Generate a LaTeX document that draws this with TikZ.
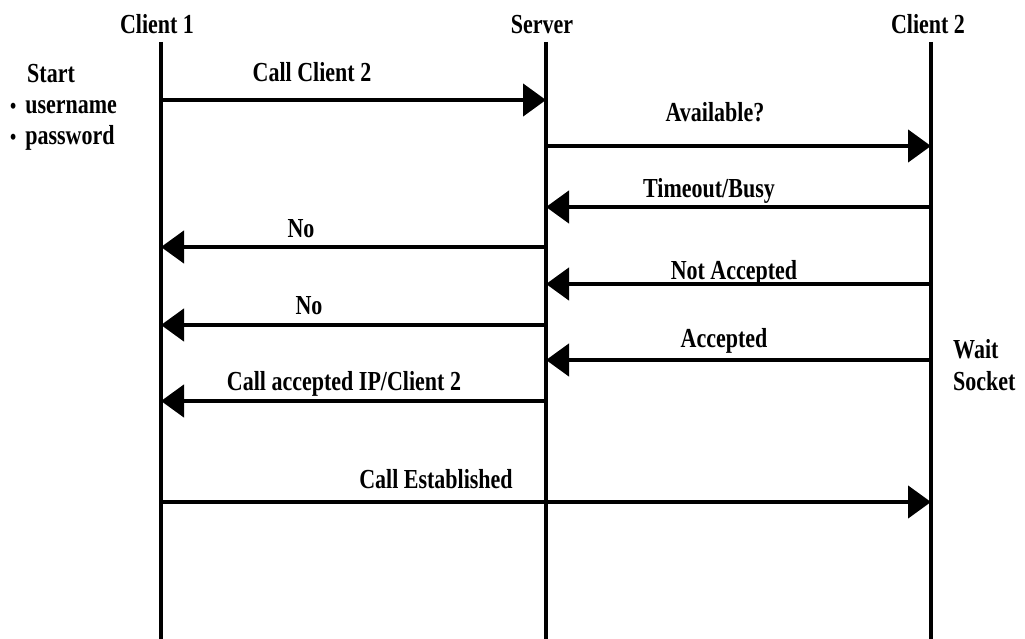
\documentclass[tikz,border=0pt]{standalone}
\usepackage{fontspec}
\setmainfont{Liberation Serif}[FakeStretch=0.8]
\usetikzlibrary{arrows.meta}
\begin{document}
\begin{tikzpicture}[x=1pt,y={(0pt,-1pt)},
  life/.style={line width=4.5pt},
  msg/.style={line width=4.5pt,-{Triangle[length=23pt,width=32pt]}},
  lbl/.style={font=\bfseries\fontsize{27.5}{30}\selectfont,inner sep=0pt,anchor=base},
  lft/.style={lbl,anchor=base west}]
\useasboundingbox (0,0) rectangle (1025,639);
% lifeline heads
\node[lbl] (h1) at (157,34) {Client 1};
\node[lbl] (hs) at (542,34) {Server};
\node[lbl] (h2) at (928,34) {Client 2};
\coordinate (c1t) at (161,42);
\coordinate (st) at (546,42);
\coordinate (c2t) at (931,42);
\coordinate (c1b) at (161,639);
\coordinate (sb) at (546,639);
\coordinate (c2b) at (931,639);
\draw[life] (c1t) -- (c1b);
\draw[life] (st) -- (sb);
\draw[life] (c2t) -- (c2b);
% side notes
\node[lft] (start) at (27,83) {Start};
\node[lft] (user) at (10,114) {\fontsize{22}{22}\selectfont•\hspace{9pt}\fontsize{27.5}{30}\selectfont username};
\node[lft] (pass) at (10,145) {\fontsize{22}{22}\selectfont•\hspace{9pt}\fontsize{27.5}{30}\selectfont password};
\node[lft] (wait) at (953,358) {Wait};
\node[lft] (sock) at (953,390) {Socket};
% message end points
\coordinate (a1) at (161,100); \coordinate (b1) at (546,100);
\coordinate (a2) at (546,146); \coordinate (b2) at (931,146);
\coordinate (a3) at (931,207); \coordinate (b3) at (546,207);
\coordinate (a4) at (546,247); \coordinate (b4) at (161,247);
\coordinate (a5) at (931,284); \coordinate (b5) at (546,284);
\coordinate (a6) at (546,325); \coordinate (b6) at (161,325);
\coordinate (a7) at (931,360); \coordinate (b7) at (546,360);
\coordinate (a8) at (546,401); \coordinate (b8) at (161,401);
\coordinate (a9) at (161,502); \coordinate (b9) at (931,502);
\draw[msg] (a1) -- (b1);
\draw[msg] (a2) -- (b2);
\draw[msg] (a3) -- (b3);
\draw[msg] (a4) -- (b4);
\draw[msg] (a5) -- (b5);
\draw[msg] (a6) -- (b6);
\draw[msg] (a7) -- (b7);
\draw[msg] (a8) -- (b8);
\draw[msg] (a9) -- (b9);
% message labels
\node[lbl] (l1) at (312,82) {Call Client 2};
\node[lbl] (l2) at (715,122) {Available?};
\node[lbl] (l3) at (709,197) {Timeout/Busy};
\node[lbl] (l4) at (301,237) {No};
\node[lbl] (l5) at (734,279) {Not Accepted};
\node[lbl] (l6) at (309,314) {No};
\node[lbl] (l7) at (724,347) {Accepted};
\node[lbl] (l8) at (344,390) {Call accepted IP/Client 2};
\node[lbl] (l9) at (436,488) {Call Established};
\end{tikzpicture}
\end{document}
